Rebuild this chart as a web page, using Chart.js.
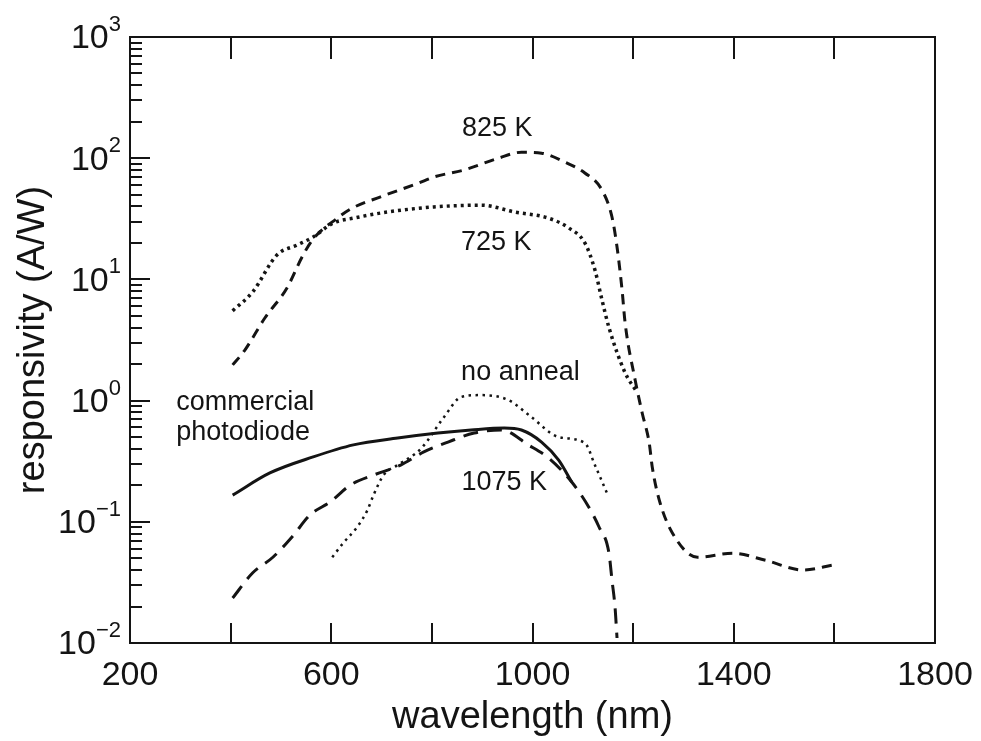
<!DOCTYPE html>
<html>
<head>
<meta charset="utf-8">
<script src="https://cdn.jsdelivr.net/npm/chart.js@4"></script>
<style>
  body { margin: 0; background: #fff; }
</style>
</head>
<body>
<canvas id="resp" width="981" height="741"></canvas>
<script>
// wavelength (nm) / responsivity (A/W)
var wl825 = [404, 428, 468, 512, 542, 562, 612, 642, 698, 772, 804, 864, 932, 978, 1018, 1064, 1104, 1138, 1158, 1168, 1178, 1184, 1204, 1218, 1232, 1238, 1252, 1278, 1328, 1398, 1464, 1538, 1598];
var r825 = [1.97, 2.6, 4.8, 8.5, 15.3, 21, 32, 38.8, 48, 62, 70, 80, 100, 112, 110, 93, 75.5, 54.7, 32.7, 18.5, 8.2, 4.4, 1.48, 0.79, 0.447, 0.283, 0.151, 0.081, 0.051, 0.055, 0.048, 0.040, 0.044];

var wl725 = [404, 444, 492, 532, 564, 604, 644, 712, 804, 898, 964, 1032, 1072, 1104, 1124, 1138, 1152, 1184, 1206];
var r725 = [5.5, 7.9, 15.9, 19.2, 22.4, 29.2, 32, 36, 39.6, 41, 36, 32, 26.6, 20, 12, 6.8, 4.0, 1.7, 1.2];

var wlCom = [404, 478, 564, 644, 732, 812, 878, 944, 978, 1018, 1052, 1078];
var rCom = [0.166, 0.253, 0.343, 0.431, 0.491, 0.54, 0.572, 0.594, 0.572, 0.455, 0.323, 0.213];

var wl1075 = [404, 444, 484, 522, 558, 598, 638, 684, 738, 784, 832, 884, 938, 992, 1032, 1078, 1112, 1132, 1152, 1158, 1164, 1168];
var r1075 = [0.0235, 0.038, 0.051, 0.075, 0.114, 0.146, 0.201, 0.243, 0.294, 0.377, 0.455, 0.54, 0.572, 0.43, 0.336, 0.213, 0.132, 0.091, 0.055, 0.033, 0.0198, 0.011];

var wlNo = [602, 624, 652, 672, 684, 704, 732, 778, 824, 858, 898, 952, 998, 1052, 1104, 1124, 1148];
var rNo = [0.051, 0.067, 0.091, 0.125, 0.166, 0.243, 0.294, 0.40, 0.73, 1.07, 1.11, 1.01, 0.73, 0.50, 0.447, 0.294, 0.173];

// axis ticks
var xTicks = [200, 400, 600, 800, 1000, 1200, 1400, 1600, 1800];
var xLabels = [200, 600, 1000, 1400, 1800];
var yExps = [-2, -1, 0, 1, 2, 3];
var yMinor = [2, 3, 4, 5, 6, 7, 8, 9];

// curve names written on the plot, placed at data coordinates
var notes = [
  { text: '825 K', x: 930, y: 177, align: 'center' },
  { text: '725 K', x: 928, y: 20, align: 'center' },
  { text: 'no anneal', x: 976, y: 1.69, align: 'center' },
  { text: '1075 K', x: 944, y: 0.209, align: 'center' },
  { text: 'commercial', x: 292, y: 0.955, align: 'left' },
  { text: 'photodiode', x: 292, y: 0.541, align: 'left' }
];

var FONT = "'Liberation Sans', Arial, Helvetica, sans-serif";
var INK = '#141414';

function pts(xs, ys) {
  return xs.map(function (x, i) { return { x: x, y: ys[i] }; });
}

function curve(label, xs, ys, dash, width) {
  return {
    label: label,
    data: pts(xs, ys),
    borderColor: INK,
    borderWidth: width,
    borderDash: dash,
    borderCapStyle: 'butt',
    pointRadius: 0,
    fill: false,
    cubicInterpolationMode: 'monotone'
  };
}

var decor = {
  id: 'decor',
  afterDraw: function (chart) {
    var ctx = chart.ctx;
    var a = chart.chartArea;
    var xs = chart.scales.x;
    var ys = chart.scales.y;
    ctx.save();
    ctx.strokeStyle = INK;
    ctx.lineWidth = 2;

    // top and right frame
    ctx.beginPath();
    ctx.moveTo(a.left, a.top);
    ctx.lineTo(a.right, a.top);
    ctx.lineTo(a.right, a.bottom);
    ctx.stroke();

    // x tick marks, bottom and top, pointing inward
    ctx.beginPath();
    xTicks.forEach(function (v) {
      if (v === xs.min || v === xs.max) return;
      var px = Math.round(xs.getPixelForValue(v));
      ctx.moveTo(px, a.bottom);
      ctx.lineTo(px, a.bottom - 20);
      ctx.moveTo(px, a.top);
      ctx.lineTo(px, a.top + 22);
    });
    ctx.stroke();

    // y tick marks on the left, major and minor
    ctx.beginPath();
    yExps.forEach(function (e) {
      var py = Math.round(ys.getPixelForValue(Math.pow(10, e)));
      ctx.moveTo(a.left, py);
      ctx.lineTo(a.left + 20, py);
      if (e === 3) return;
      yMinor.forEach(function (m) {
        var p = Math.round(ys.getPixelForValue(m * Math.pow(10, e)));
        ctx.moveTo(a.left, p);
        ctx.lineTo(a.left + 12, p);
      });
    });
    ctx.stroke();

    // y tick labels as 10 with a raised exponent
    ctx.fillStyle = INK;
    ctx.textBaseline = 'middle';
    yExps.forEach(function (e) {
      var py = ys.getPixelForValue(Math.pow(10, e));
      var sup = e < 0 ? '\u2212' + (-e) : String(e);
      ctx.font = '22px ' + FONT;
      var wSup = ctx.measureText(sup).width;
      var right = a.left - 9;
      ctx.textAlign = 'left';
      ctx.fillText(sup, right - wSup, py - 12);
      ctx.font = '34px ' + FONT;
      ctx.textAlign = 'right';
      ctx.fillText('10', right - wSup, py + 2);
    });

    // curve names
    ctx.font = '27px ' + FONT;
    notes.forEach(function (n) {
      ctx.textAlign = n.align;
      ctx.fillText(n.text, xs.getPixelForValue(n.x), ys.getPixelForValue(n.y));
    });
    ctx.restore();
  }
};

new Chart(document.getElementById('resp'), {
  type: 'line',
  data: {
    datasets: [
      curve('825 K', wl825, r825, [10, 7], 3),
      curve('725 K', wl725, r725, [3, 4], 3.5),
      curve('commercial photodiode', wlCom, rCom, [], 3),
      curve('1075 K', wl1075, r1075, [15, 9], 3),
      curve('no anneal', wlNo, rNo, [2.5, 4.5], 2.5)
    ]
  },
  plugins: [decor],
  options: {
    responsive: false,
    animation: false,
    layout: {
      padding: { top: 37, right: 46, left: 0, bottom: 0 }
    },
    plugins: {
      legend: { display: false },
      tooltip: { enabled: false }
    },
    scales: {
      x: {
        type: 'linear',
        min: 200,
        max: 1800,
        grid: { display: false, drawTicks: false },
        border: { display: true, color: INK, width: 2 },
        afterFit: function (s) {
          s.height = 98;
          s.paddingLeft = 0;
          s.paddingRight = 0;
        },
        ticks: {
          stepSize: 200,
          autoSkip: false,
          maxRotation: 0,
          padding: 12,
          color: INK,
          font: { family: FONT, size: 34 },
          callback: function (v) {
            return xLabels.indexOf(v) >= 0 ? String(v) : '';
          }
        },
        title: {
          display: true,
          text: 'wavelength (nm)',
          color: INK,
          font: { family: FONT, size: 38 },
          padding: { top: 0, bottom: 1 }
        }
      },
      y: {
        type: 'logarithmic',
        min: 0.01,
        max: 1000,
        grid: { display: false, drawTicks: false },
        border: { display: true, color: INK, width: 2 },
        afterFit: function (s) {
          s.width = 130;
          s.paddingTop = 0;
          s.paddingBottom = 0;
        },
        ticks: { display: false },
        title: {
          display: true,
          text: 'responsivity (A/W)',
          color: INK,
          font: { family: FONT, size: 38 },
          padding: { top: 11, bottom: 0 }
        }
      }
    }
  }
});
</script>
</body>
</html>
